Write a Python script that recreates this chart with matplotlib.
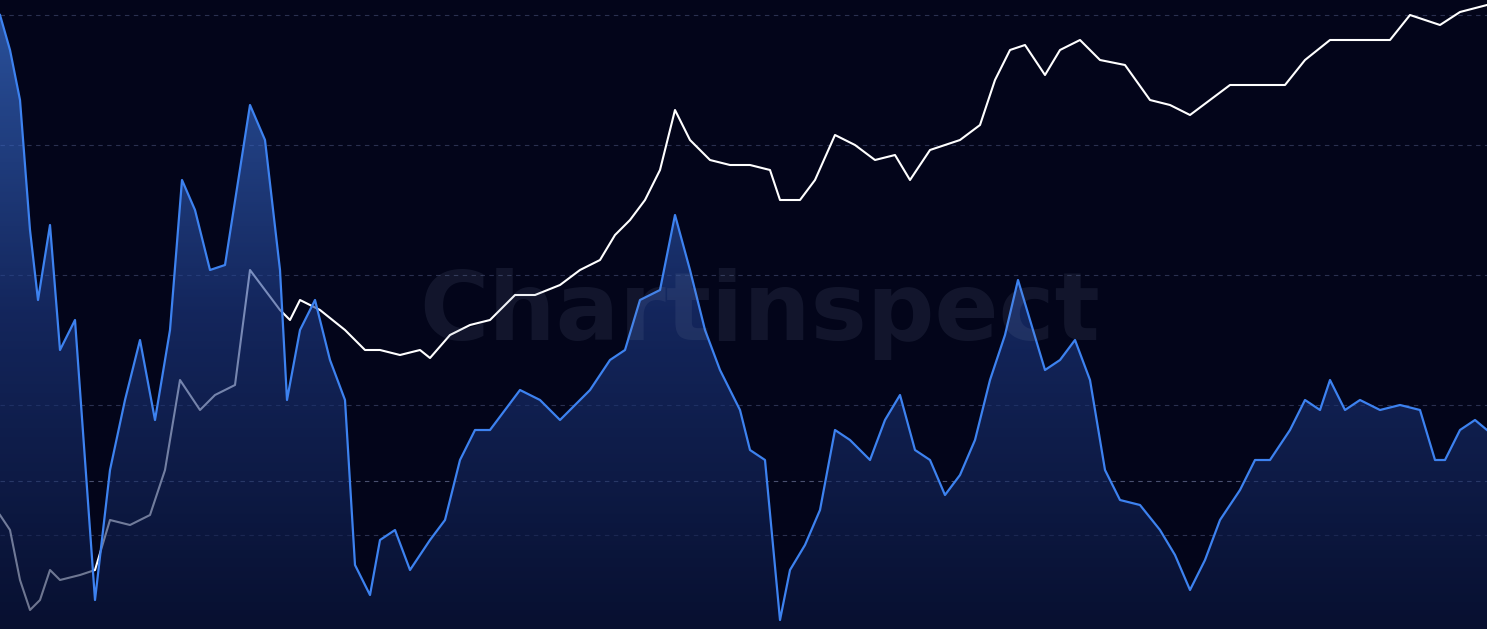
import numpy as np
import matplotlib.pyplot as plt
from matplotlib.colors import LinearSegmentedColormap

# blue series (x index, level)
blue_x = [0, 10, 20, 30, 38, 50, 60, 75, 85, 95, 110, 125, 140, 155, 170, 182, 195, 210, 225, 250,
          265, 280, 287, 300, 315, 330, 345, 355, 370, 380, 395, 410, 430, 445, 460, 475, 490, 505,
          520, 540, 560, 575, 590, 610, 625, 640, 660, 675, 690, 705, 720, 740, 750, 765, 780, 790,
          805, 820, 835, 850, 870, 885, 900, 915, 930, 945, 960, 975, 990, 1005, 1018, 1030, 1045,
          1060, 1075, 1090, 1105, 1120, 1140, 1160, 1175, 1190, 1205, 1220, 1240, 1255, 1270, 1290,
          1305, 1320, 1330, 1345, 1360, 1380, 1400, 1420, 1435, 1445, 1460, 1475, 1487]
blue_y = [614, 579, 529, 399, 329, 404, 279, 309, 169, 29, 159, 229, 289, 209, 299, 449, 419, 359,
          364, 524, 489, 359, 229, 299, 329, 269, 229, 64, 34, 89, 99, 59, 89, 109, 169, 199, 199,
          219, 239, 229, 209, 224, 239, 269, 279, 329, 339, 414, 359, 299, 259, 219, 179, 169, 9,
          59, 84, 119, 199, 189, 169, 209, 234, 179, 169, 134, 154, 189, 249, 294, 349, 309, 259,
          269, 289, 249, 159, 129, 124, 99, 74, 39, 69, 109, 139, 169, 169, 199, 229, 219, 249,
          219, 229, 219, 224, 219, 169, 169, 199, 209, 199]

# white series
white_x = [0, 10, 20, 30, 40, 50, 60, 80, 95, 110, 130, 150, 165, 180, 200, 215, 235, 250, 265, 280,
           290, 300, 320, 345, 365, 380, 400, 420, 430, 450, 470, 490, 515, 535, 560, 580, 600, 615,
           630, 645, 660, 675, 690, 710, 730, 750, 770, 780, 800, 815, 835, 855, 875, 895, 910, 930,
           960, 980, 995, 1010, 1025, 1045, 1060, 1080, 1100, 1125, 1150, 1170, 1190, 1210, 1230,
           1260, 1285, 1305, 1330, 1360, 1390, 1410, 1440, 1460, 1487]
white_y = [114, 99, 49, 19, 29, 59, 49, 54, 59, 109, 104, 114, 159, 249, 219, 234, 244, 359, 339,
           319, 309, 329, 319, 299, 279, 279, 274, 279, 271, 294, 304, 309, 334, 334, 344, 359, 369,
           394, 409, 429, 459, 519, 489, 469, 464, 464, 459, 429, 429, 449, 494, 484, 469, 474, 449,
           479, 489, 504, 549, 579, 584, 554, 579, 589, 569, 564, 529, 524, 514, 529, 544, 544, 544,
           569, 589, 589, 589, 614, 604, 617, 624]

grid_levels = [614, 484, 354, 224, 94]

bg = '#03051a'
fig = plt.figure(figsize=(14.87, 6.29), dpi=100, facecolor=bg)
ax = fig.add_axes([0, 0, 1, 1])
ax.set_facecolor(bg)
ax.set_xlim(0, 1487)
ax.set_ylim(0, 629)
ax.axis('off')

for g in grid_levels:
    ax.axhline(g, color='#2a3050', lw=0.8, ls=(0, (4, 4)), zorder=0)
ax.axhline(148, color='#4a5070', lw=0.8, ls=(0, (4, 4)), zorder=0)

# white line sits behind the translucent fill
ax.plot(white_x, white_y, color='white', lw=1.5, zorder=1)

# gradient fill under blue line
cmap = LinearSegmentedColormap.from_list('g', ['#0c1840', '#1f3c88', '#4686f5'])
poly = ax.fill_between(blue_x, blue_y, 0, color='none')
grad = np.linspace(0, 1, 256).reshape(-1, 1)
im = ax.imshow(grad, extent=[0, 1487, 0, 629], origin='lower', cmap=cmap, aspect='auto',
               alpha=0.6, zorder=2)
path = poly.get_paths()[0]
im.set_clip_path(path, transform=ax.transData)
ax.plot(blue_x, blue_y, color='#3d82f0', lw=1.6, zorder=3)

ax.text(760, 315, 'Chartinspect', ha='center', va='center', fontsize=68, fontweight='bold',
        color='#8090b0', alpha=0.12, zorder=4)

fig.savefig('out.png', dpi=100, facecolor=bg)
